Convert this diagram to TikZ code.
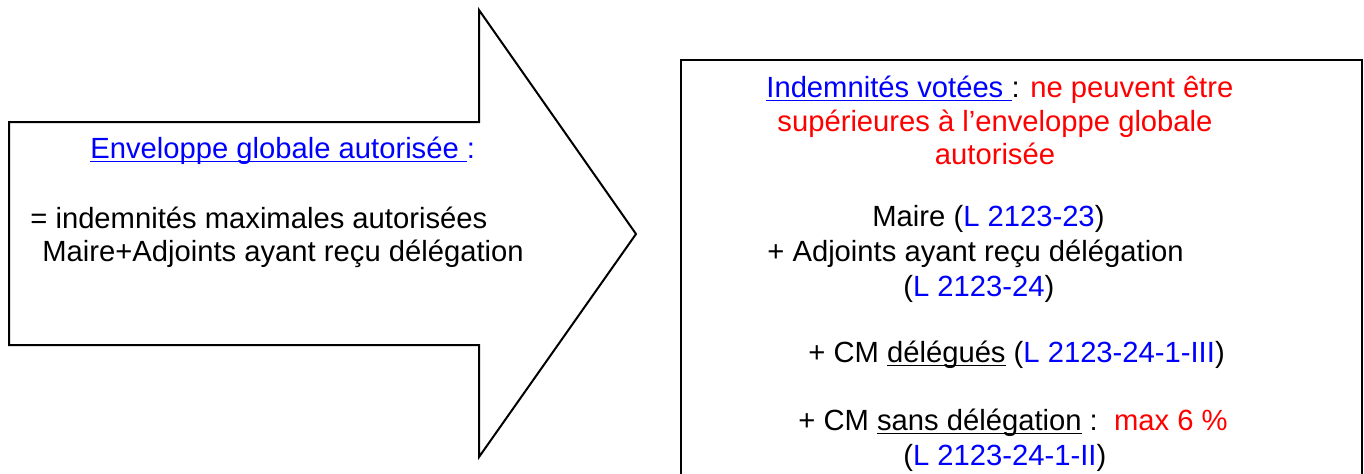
\documentclass[tikz,border=0pt]{standalone}
\usepackage{fontspec}
\setmainfont{Liberation Sans}
\definecolor{lienbleu}{RGB}{0,0,255}
\definecolor{rougetxt}{RGB}{255,0,0}
\newcommand\souligne[1]{\setbox0\hbox{#1}\rlap{\rule[-2.2pt]{\wd0}{0.6pt}}\box0\relax}

\begin{document}
\begin{tikzpicture}[x=0.5pt, y=-0.5pt, txt/.style = {inner sep=0, font=\fontsize{14.6}{17}\selectfont}, trait/.style = {draw, line width=1pt, line join=miter}]
	\clip (0,0) rectangle (1364,473);
	\draw[trait] (9,122) -- (479,122) -- (479,10) -- (636,234) -- (479,457) -- (479,345) -- (9,345) -- cycle;
	\draw[trait] (681,480) -- (681,60) -- (1362,60) -- (1362,480);
	\node[txt, anchor=base west] (env) at (90,158) {\color{lienbleu}\souligne{Enveloppe globale autorisée }:};
	\node[txt, anchor=base west] (egal) at (30,228) {= indemnités maximales autorisées};
	\node[txt, anchor=base west] (maxi) at (42,261) {Maire+Adjoints ayant reçu délégation};
	\node[txt, anchor=base west] (vote) at (766,97) {\textcolor{lienbleu}{\souligne{Indemnités votées }}: \textcolor{rougetxt}{ne peuvent être}};
	\node[txt, anchor=base] (sup) at (995,131) {\color{rougetxt}supérieures à l’enveloppe globale};
	\node[txt, anchor=base] (aut) at (995,164) {\color{rougetxt}autorisée};
	\node[txt, anchor=base west] (maire) at (872,226) {Maire (\textcolor{lienbleu}{L 2123-23})};
	\node[txt, anchor=base west] (adj) at (767,261) {+ Adjoints ayant reçu délégation};
	\node[txt, anchor=base west] (refadj) at (903,296) {(\textcolor{lienbleu}{L 2123-24})};
	\node[txt, anchor=base west] (cmdel) at (808,362) {+ CM \souligne{délégués} (\textcolor{lienbleu}{L 2123-24-1-III})};
	\node[txt, anchor=base west] (cmsans) at (798,430) {+ CM \souligne{sans délégation} :~~\textcolor{rougetxt}{max 6 \%}};
	\node[txt, anchor=base west] (refsans) at (903,465) {(\textcolor{lienbleu}{L 2123-24-1-II})};
\end{tikzpicture}
\end{document}
